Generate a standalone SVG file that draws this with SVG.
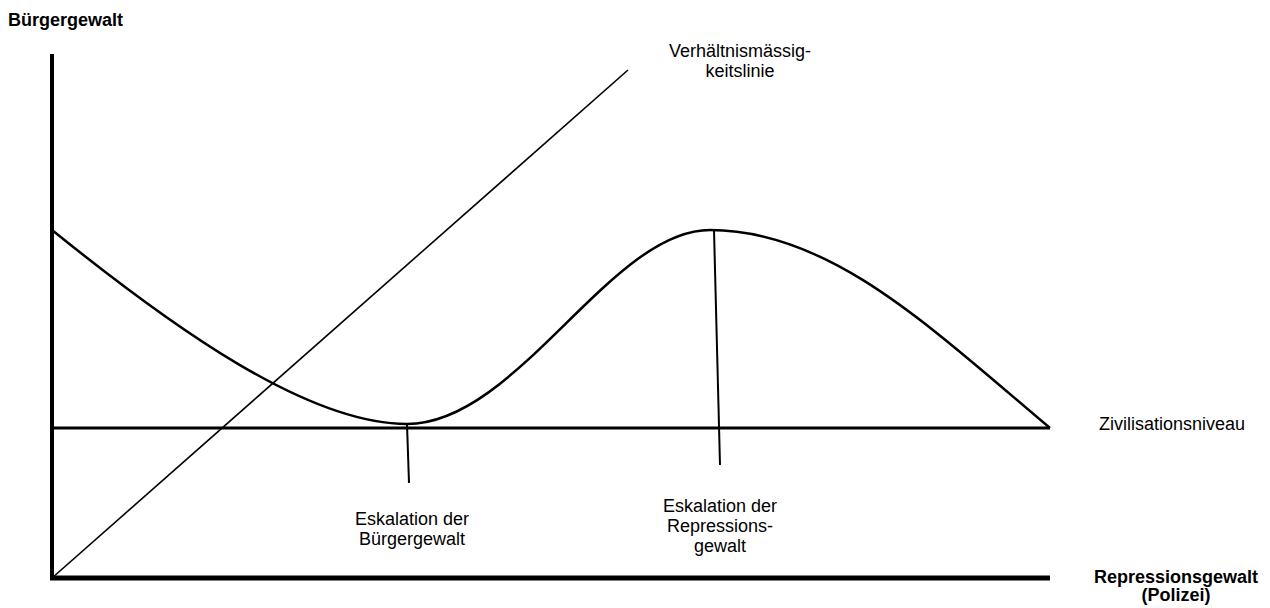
<svg xmlns="http://www.w3.org/2000/svg" width="1270" height="608" viewBox="0 0 1270 608">
<style>
.ln{stroke:#000;fill:none;stroke-linecap:butt}
.t{font-family:"Liberation Sans",Arial,sans-serif;font-size:18px;fill:#000}
.b{font-weight:bold}
</style>
<rect width="1270" height="608" fill="#fff"/>
<g id="connectors">
<line id="y-axis" class="ln" x1="52" y1="54" x2="52" y2="580" stroke-width="4"/>
<line id="x-axis" class="ln" x1="50" y1="578" x2="1050" y2="578" stroke-width="5"/>
<line id="zivil-line" class="ln" x1="52" y1="428" x2="1050" y2="428" stroke-width="3"/>
<line id="diagonal" class="ln" x1="52" y1="578" x2="628" y2="70" stroke-width="1.6"/>
<path id="curve" class="ln" stroke-width="2.5" d="M52,230 C172,327 307,424 407,424 C517,424 610,230 710,230 C830,230 930,327 1050,428"/>
<line id="tick-left" class="ln" x1="407" y1="424" x2="409" y2="483" stroke-width="2"/>
<line id="tick-right" class="ln" x1="714" y1="230" x2="720" y2="465" stroke-width="2"/>
</g>
<g id="label-y"><text class="t b" x="8" y="26">Bürgergewalt</text></g>
<g id="label-prop"><text class="t" text-anchor="middle"><tspan x="740" y="57">Verhältnismässig-</tspan><tspan x="740" y="77">keitslinie</tspan></text></g>
<g id="label-zivil"><text class="t" x="1099" y="430">Zivilisationsniveau</text></g>
<g id="label-esk-buerger"><text class="t" text-anchor="middle"><tspan x="412" y="525">Eskalation der</tspan><tspan x="412" y="545">Bürgergewalt</tspan></text></g>
<g id="label-esk-repr"><text class="t" text-anchor="middle"><tspan x="720" y="512">Eskalation der</tspan><tspan x="720" y="532">Repressions-</tspan><tspan x="720" y="552">gewalt</tspan></text></g>
<g id="label-x"><text class="t b" text-anchor="middle"><tspan x="1176" y="583">Repressionsgewalt</tspan><tspan x="1176" y="601">(Polizei)</tspan></text></g>
</svg>
